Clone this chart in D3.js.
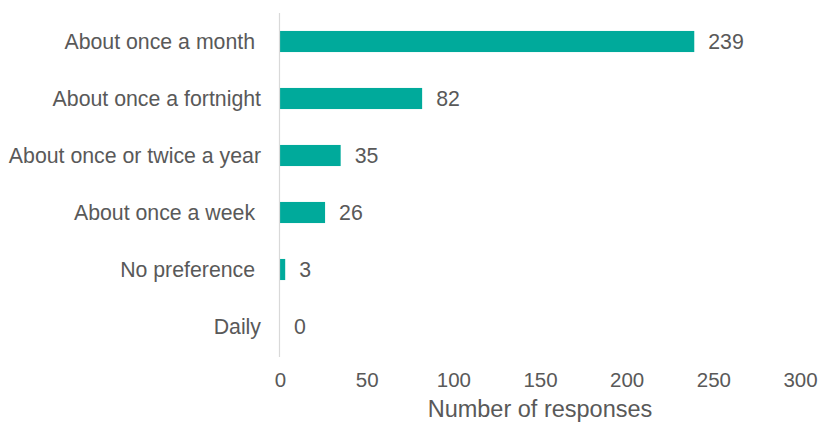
<!DOCTYPE html>
<html>
<head>
<meta charset="utf-8">
<script src="https://cdn.jsdelivr.net/npm/d3@7"></script>
<style>
  html, body { margin: 0; padding: 0; background: #fff; }
  svg text { font-family: "Liberation Sans", Arial, sans-serif; fill: #595959; white-space: pre; }
</style>
</head>
<body>
<svg id="chart" width="820" height="423"></svg>
<script>
// Preferred frequency of contact, number of responses
// (some category names carry a trailing space in the source sheet)
const categories = [
  "About once a month ",
  "About once a fortnight",
  "About once or twice a year",
  "About once a week ",
  "No preference ",
  "Daily"
];
const responses = [239, 82, 35, 26, 3, 0];
const xTicks = [0, 50, 100, 150, 200, 250, 300];
const xTitle = "Number of responses";

const svg = d3.select("#chart");
const plotLeft = 280, plotRight = 800, plotTop = 13, plotBottom = 355;

const x = d3.scaleLinear().domain([0, 300]).range([plotLeft, plotRight]);
const y = d3.scaleBand()
  .domain(categories)
  .range([plotTop, plotBottom])
  .paddingInner(0.63)
  .paddingOuter(0.315);

// bars
svg.append("g").selectAll("rect")
  .data(categories)
  .join("rect")
  .attr("x", x(0))
  .attr("y", d => y(d))
  .attr("width", (d, i) => x(responses[i]) - x(0))
  .attr("height", y.bandwidth())
  .attr("fill", "#00AA9B");

// vertical category axis line
svg.append("line")
  .attr("x1", x(0) - 0.5).attr("x2", x(0) - 0.5)
  .attr("y1", plotTop).attr("y2", plotBottom + 2)
  .attr("stroke", "#d9d9d9").attr("stroke-width", 1.2);

// category labels
svg.append("g").selectAll("text")
  .data(categories)
  .join("text")
  .attr("x", 261)
  .attr("y", d => y(d) + y.bandwidth() / 2)
  .attr("dy", "0.35em")
  .attr("text-anchor", "end")
  .style("font-size", "21.3px")
  .text(d => d);

// value labels
svg.append("g").selectAll("text")
  .data(categories)
  .join("text")
  .attr("x", (d, i) => x(responses[i]) + 14)
  .attr("y", d => y(d) + y.bandwidth() / 2)
  .attr("dy", "0.35em")
  .style("font-size", "21.3px")
  .text((d, i) => responses[i]);

// x axis tick labels
const xAxis = d3.axisBottom(x).tickValues(xTicks).tickSize(0).tickPadding(0);
const gx = svg.append("g").attr("transform", "translate(0,387)").call(xAxis);
gx.select(".domain").remove();
gx.selectAll("text")
  .attr("dy", "0")
  .style("font-size", "20.5px")
  .style("font-family", "'Liberation Sans', Arial, sans-serif")
  .attr("fill", "#595959");

// axis title
svg.append("text")
  .attr("x", (x(0) + x(300)) / 2)
  .attr("y", 417)
  .attr("text-anchor", "middle")
  .style("font-size", "23.5px")
  .text(xTitle);
</script>
</body>
</html>
